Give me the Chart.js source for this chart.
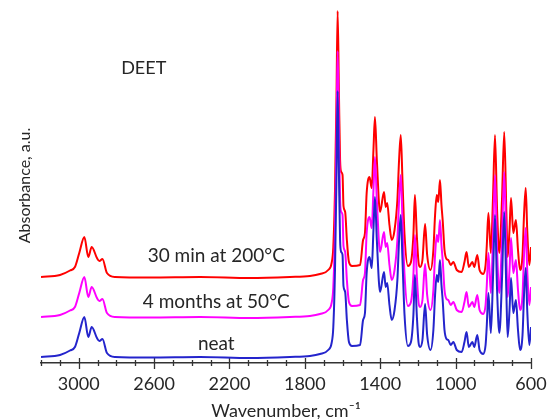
<!DOCTYPE html>
<html>
<head>
<meta charset="utf-8">
<script src="https://cdn.jsdelivr.net/npm/chart.js@4.4.1/dist/chart.umd.min.js"></script>
<style>
  html, body { margin: 0; padding: 0; background: #fff; }
  canvas { display: block; }
</style>
</head>
<body>
<canvas id="chart" width="551" height="419"></canvas>
<script>
// IR spectra of DEET (absorbance before stacking)
const wavenumbers = [
  3200, 3099, 3046, 3020, 2997, 2970, 2949, 2931, 2903, 2890, 2874, 2850, 2807,
  2622, 2356, 2091, 1879, 1773, 1720, 1676, 1658, 1649, 1640, 1632, 1626, 1619,
  1613, 1607, 1600, 1595, 1586, 1577, 1566, 1550, 1507, 1491, 1481, 1472, 1457,
  1445, 1436, 1428, 1418, 1401, 1380, 1371, 1363, 1351, 1339, 1324, 1309, 1300,
  1291, 1282, 1271, 1253, 1237, 1224, 1216, 1206, 1197, 1189, 1176, 1162, 1151,
  1133, 1118, 1109, 1100, 1092, 1083, 1075, 1068, 1059, 1048, 1039, 1026, 1012,
  994, 968, 953, 942, 930, 911, 901, 885, 873, 853, 841, 835, 826, 813, 802,
  791, 780, 768, 754, 742, 731, 724, 714, 706, 694, 680, 669, 658, 645, 637,
  628, 620, 609, 600
];

const neat = [
  0.06, 0.08, 0.125, 0.16, 0.30, 0.46, 0.26, 0.36, 0.25, 0.22, 0.24, 0.10, 0.06,
  0.055, 0.06, 0.05, 0.06, 0.07, 0.09, 0.13, 0.20, 0.36, 0.93, 1.88, 2.72, 1.88,
  1.23, 1.11, 1.08, 0.77, 0.71, 0.43, 0.21, 0.17, 0.18, 0.43, 0.50, 0.90, 1.06,
  0.95, 1.33, 1.66, 1.23, 0.71, 0.91, 0.76, 0.80, 0.58, 0.43, 0.53, 0.83, 1.23,
  1.48, 1.03, 0.48, 0.17, 0.21, 0.48, 0.88, 0.48, 0.21, 0.16, 0.23, 0.59, 0.28,
  0.13, 0.33, 0.68, 0.88, 0.81, 1.03, 0.78, 0.61, 0.33, 0.24, 0.23, 0.18, 0.21,
  0.13, 0.11, 0.21, 0.31, 0.16, 0.21, 0.16, 0.28, 0.13, 0.09, 0.18, 0.36, 0.70, 0.30, 0.83,
  1.48, 0.73, 0.30, 0.83, 1.51, 0.73, 0.26, 0.53, 0.85, 0.50, 0.63, 0.33, 0.13, 0.28, 0.68,
  0.95, 0.53, 0.18, 0.36
];

const fourMonths50C = [
  0.06, 0.08, 0.125, 0.16, 0.30, 0.46, 0.26, 0.36, 0.25, 0.22, 0.24, 0.10, 0.06,
  0.055, 0.06, 0.05, 0.06, 0.07, 0.09, 0.13, 0.20, 0.36, 0.93, 1.88, 2.72, 1.88,
  1.23, 1.11, 1.08, 0.77, 0.71, 0.43, 0.21, 0.17, 0.18, 0.43, 0.50, 0.90, 1.06,
  0.95, 1.33, 1.66, 1.23, 0.71, 0.91, 0.76, 0.80, 0.58, 0.43, 0.53, 0.83, 1.23,
  1.48, 1.03, 0.48, 0.17, 0.21, 0.48, 0.88, 0.48, 0.21, 0.16, 0.23, 0.59, 0.28,
  0.13, 0.33, 0.68, 0.88, 0.81, 1.03, 0.78, 0.61, 0.33, 0.24, 0.23, 0.18, 0.21,
  0.13, 0.11, 0.21, 0.31, 0.16, 0.21, 0.16, 0.28, 0.13, 0.09, 0.18, 0.36, 0.70, 0.30, 0.83,
  1.48, 0.73, 0.30, 0.83, 1.51, 0.73, 0.26, 0.53, 0.85, 0.50, 0.63, 0.33, 0.13, 0.28, 0.68,
  0.95, 0.53, 0.18, 0.36
];

const thirtyMin200C = [
  0.06, 0.08, 0.125, 0.16, 0.30, 0.46, 0.26, 0.36, 0.25, 0.22, 0.24, 0.10, 0.06,
  0.055, 0.06, 0.05, 0.06, 0.07, 0.09, 0.13, 0.20, 0.36, 0.93, 1.88, 2.72, 1.88,
  1.23, 1.11, 1.08, 0.77, 0.71, 0.43, 0.21, 0.17, 0.18, 0.43, 0.50, 0.90, 1.06,
  0.95, 1.33, 1.66, 1.23, 0.71, 0.91, 0.76, 0.80, 0.58, 0.43, 0.53, 0.83, 1.23,
  1.48, 1.03, 0.48, 0.17, 0.21, 0.48, 0.88, 0.48, 0.21, 0.16, 0.23, 0.59, 0.28,
  0.13, 0.33, 0.68, 0.88, 0.81, 1.03, 0.78, 0.61, 0.33, 0.24, 0.23, 0.18, 0.21,
  0.13, 0.11, 0.21, 0.31, 0.16, 0.21, 0.16, 0.28, 0.13, 0.09, 0.18, 0.36, 0.70, 0.30, 0.83,
  1.48, 0.73, 0.30, 0.83, 1.51, 0.73, 0.26, 0.53, 0.85, 0.50, 0.63, 0.33, 0.13, 0.28, 0.68,
  0.95, 0.53, 0.18, 0.36
];

const seriesNames = ['neat', '4 months at 50\u00B0C', '30 min at 200\u00B0C'];
const seriesOffsets = [0, 0.4, 0.8];   // vertical stacking of the traces
const majorTicks = [3000, 2600, 2200, 1800, 1400, 1000, 600];
const minorTicks = [3200, 3100, 2900, 2800, 2700, 2500, 2400, 2300, 2100, 2000,
  1900, 1700, 1600, 1500, 1300, 1200, 1100, 900, 800, 700];

// styles
const colors = ['#2424cc', '#ff00ff', '#ff0000'];
const textColor = '#262626';
const axisColor = '#333333';
const fontFamily = 'Lato, "Open Sans", sans-serif';
const labelAt = 2270;                  // wavenumber where the trace names sit
const labelLevels = [0.13, 0.555, 1.01];

var spectra = [neat, fourMonths50C, thirtyMin200C];

var getDatasets = () => {
  const datasets = [];
  for (let i = 0; i < spectra.length; i++) {
    datasets.push({
      label: seriesNames[i],
      data: wavenumbers.map((w, j) => ({ x: w, y: spectra[i][j] + seriesOffsets[i] })),
      borderColor: colors[i],
      borderWidth: 2,
      pointRadius: 0,
      cubicInterpolationMode: 'monotone',
      fill: false
    });
  }
  return datasets;
};

// ticks that cross the axis line, plus the free text in the plot
var annotate = {
  id: 'annotate',
  beforeDatasetsDraw: (chart) => {
    const ctx = chart.ctx;
    const xs = chart.scales.x;
    const base = chart.chartArea.bottom;
    ctx.save();
    ctx.strokeStyle = axisColor;
    ctx.lineWidth = 1.3;
    ctx.beginPath();
    majorTicks.forEach(v => {
      const px = Math.round(xs.getPixelForValue(v)) + 0.5;
      ctx.moveTo(px, base - 5);
      ctx.lineTo(px, base + 6);
    });
    minorTicks.forEach(v => {
      const px = Math.round(xs.getPixelForValue(v)) + 0.5;
      ctx.moveTo(px, base - 3);
      ctx.lineTo(px, base + 3);
    });
    ctx.stroke();
    ctx.restore();
  },
  afterDraw: (chart) => {
    const ctx = chart.ctx;
    const xs = chart.scales.x;
    const ys = chart.scales.y;
    ctx.save();
    ctx.fillStyle = textColor;
    ctx.textAlign = 'center';
    ctx.textBaseline = 'alphabetic';
    ctx.font = '19px ' + fontFamily;
    for (let i = 0; i < seriesNames.length; i++) {
      ctx.fillText(seriesNames[i], xs.getPixelForValue(labelAt), ys.getPixelForValue(labelLevels[i]));
    }
    ctx.font = '18px ' + fontFamily;
    ctx.fillText('DEET', xs.getPixelForValue(2655), ys.getPixelForValue(2.89));
    ctx.restore();
  }
};

var drawChart = () => {
  new Chart(document.getElementById('chart'), {
    type: 'line',
    data: { datasets: getDatasets() },
    options: {
      responsive: false,
      animation: false,
      devicePixelRatio: 1,
      layout: { padding: { left: 0, right: 20, top: 8, bottom: 0 } },
      plugins: { legend: { display: false }, tooltip: { enabled: false } },
      scales: {
        x: {
          type: 'linear',
          reverse: true,
          min: 600,
          max: 3200,
          afterBuildTicks: (s) => { s.ticks = majorTicks.map(v => ({ value: v })); },
          afterFit: (s) => { s.height = 56; s.paddingLeft = 0; s.paddingRight = 0; },
          ticks: {
            autoSkip: false,
            maxRotation: 0,
            padding: 10,
            color: textColor,
            font: { family: fontFamily, size: 18 },
            callback: (v) => String(v)
          },
          grid: { display: false, drawTicks: false },
          border: { display: true, color: axisColor, width: 1.5 },
          title: {
            display: true,
            text: 'Wavenumber, cm\u207B\u00B9',
            color: textColor,
            font: { family: fontFamily, size: 18, lineHeight: '16px' },
            padding: 0
          }
        },
        y: {
          min: 0,
          max: 3.55,
          afterFit: (s) => { s.width = 41; s.paddingTop = 0; s.paddingBottom = 0; },
          ticks: { display: false },
          grid: { display: false, drawTicks: false },
          border: { display: false },
          title: {
            display: true,
            text: 'Absorbance, a.u.',
            color: textColor,
            font: { family: fontFamily, size: 16 },
            padding: { top: 15, bottom: 0 }
          }
        }
      }
    },
    plugins: [annotate]
  });
};

drawChart();
</script>
</body>
</html>
